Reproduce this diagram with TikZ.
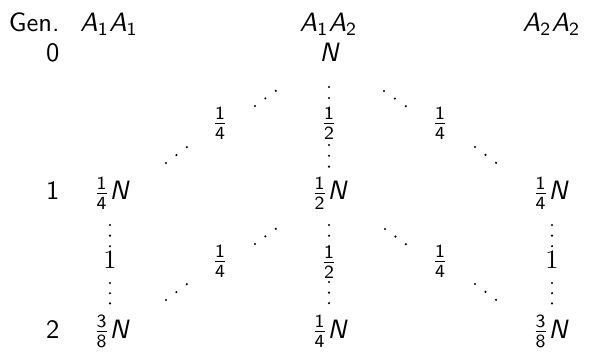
\documentclass[tikz,border=0pt]{standalone}
\usepackage{amsmath}
\newcommand{\sA}{\textsf{\itshape A}}
\newcommand{\sN}{\textsf{\itshape N}}
\newcommand{\sfr}[2]{\frac{\textsf{#1}}{\textsf{#2}}}
\tikzset{
  txt/.style={inner sep=0pt, anchor=base},
  gen/.style={inner sep=0pt, anchor=base east},
  lab/.style={inner sep=0pt},
  gdot/.style={fill=black},
}
\begin{document}
\begin{tikzpicture}[x=0.377pt, y=-0.377pt, font=\sffamily]
    \useasboundingbox (0,0) rectangle (589,360);
    % Header
    \node[gen] (gen) at (60,31.5) {Gen.};
    \node[txt] (h11) at (109,31.5) {$\sA_{\textsf{1}}\sA_{\textsf{1}}$};
    \node[txt] (h12) at (328.5,31.5) {$\sA_{\textsf{1}}\sA_{\textsf{2}}$};
    \node[txt] (h22) at (551.5,31.5) {$\sA_{\textsf{2}}\sA_{\textsf{2}}$};
    % Generation 0
    \node[gen] (g0) at (60,62) {0};
    \node[txt] (n0) at (329,62) {$\sN$};
    % Generation 1
    \node[gen] (g1) at (60,200) {1};
    \node[txt] (a1) at (111,200) {$\sfr14\sN$};
    \node[txt] (b1) at (329,200) {$\sfr12\sN$};
    \node[txt] (c1) at (550,200) {$\sfr14\sN$};
    % Generation 2
    \node[gen] (g2) at (60,338) {2};
    \node[txt] (a2) at (111,338) {$\sfr38\sN$};
    \node[txt] (b2) at (329,338) {$\sfr14\sN$};
    \node[txt] (c2) at (550,338) {$\sfr38\sN$};
    % Transition labels
    \node[lab] (pa0) at (220,123) {$\sfr14$};
    \node[lab] (pb0) at (329,123) {$\sfr12$};
    \node[lab] (pc0) at (440,123) {$\sfr14$};
    \node[lab] (pa1) at (220,261) {$\sfr14$};
    \node[lab] (pb1) at (329,262) {$\sfr12$};
    \node[lab] (pc1) at (440,261) {$\sfr14$};
    \node[txt, font=\rmfamily] (qa1) at (110,268) {1};
    \node[txt, font=\rmfamily] (qc1) at (552,268) {1};
    % Dots
    \foreach \x/\y/\dx/\dy in {255/106/10.4/-7.6, 166/163/10.4/-7.9,
        384/91/10.9/7.6, 475/147/10.5/7.9, 329/87/0/11, 329/145/0/10.8,
        255/244/10.4/-7.6, 166/300/10.4/-7.9, 385/229/10.4/7.6,
        475/284/10.5/7.9, 329/225/0/10.7, 329/282/0/10.6,
        110/225/0/10.6, 110/283/0/10.2, 552/225/0/10.6, 552/283/0/10.2}
      \foreach \i in {0,1,2}
        \fill[gdot] ({\x+\i*\dx},{\y+\i*\dy}) circle[radius=0.45pt];
\end{tikzpicture}
\end{document}
